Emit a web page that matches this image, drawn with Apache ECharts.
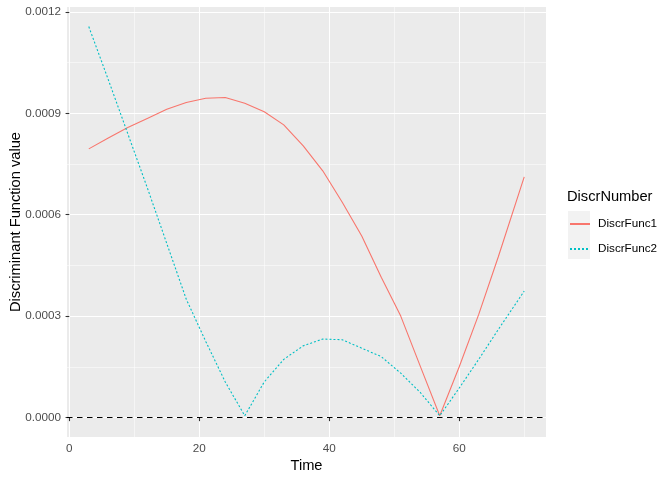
<!DOCTYPE html>
<html><head><meta charset="utf-8">
<script src="https://cdn.jsdelivr.net/npm/echarts@6/dist/echarts.min.js"></script>
<style>html,body{margin:0;padding:0;background:#fff}#c{width:672px;height:480px}</style>
</head><body><div id="c"></div>
<script>
const times = [3,6,9,12,15,18,21,24,27,30,33,36,39,42,45,48,51,54,57,60,63,66,70];
const discrFunc1 = [0.000795,0.000827,0.000858,0.000885,0.000912,0.000932,0.000945,0.000947,0.000930,0.000905,0.000866,0.000804,0.000730,0.000637,0.000537,0.000415,0.000300,0.000152,0.000005,0.000150,0.000305,0.000475,0.000712];
const discrFunc2 = [0.001157,0.001000,0.000840,0.000680,0.000515,0.000350,0.000225,0.000105,0.000005,0.000105,0.000172,0.000212,0.000232,0.000230,0.000205,0.000180,0.000131,0.000074,0.000005,0.000087,0.000172,0.000260,0.000374];
const seriesNames = ['DiscrFunc1','DiscrFunc2'];
const xTicks = [0,20,40,60];
const xMinor = [10,30,50,70];
const yTicks = [0,0.0003,0.0006,0.0009,0.0012];
const yMinor = [0.00015,0.00045,0.00075,0.00105];
const refLine = 0;

const FONT = 'Liberation Sans, Arial, Helvetica, sans-serif';
const chart = echarts.init(document.getElementById('c'), null, {renderer:'canvas'});
const xMin = -0.35, xMax = 73.35;
const yMin = -0.0000579, yMax = 0.0012149;
const tickStyle = {color:'#333333', width:1.07};
const labelStyle = {color:'#4D4D4D', fontSize:11.7, fontFamily:FONT};
chart.setOption({
  animation:false,
  textStyle:{fontFamily:FONT},
  title:{text:'DiscrNumber', left:567, top:189, padding:0, textStyle:{fontSize:14.67, fontWeight:'normal', color:'#000', fontFamily:FONT}},
  legend:{orient:'vertical', left:569, top:218, padding:0, itemWidth:20, itemHeight:14, itemGap:13,
    itemStyle:{opacity:0},
    textStyle:{fontSize:11.7, color:'#000', fontFamily:FONT, padding:[0,0,0,3]},
    data:seriesNames},
  graphic:[{type:'rect', left:568, top:211, shape:{width:22, height:48}, style:{fill:'#F2F2F2'}, z:-1}],
  grid:{left:67, right:126, top:7, bottom:43, show:true, backgroundColor:'#EBEBEB', borderWidth:0,
    containLabel:false, outerBoundsMode:'none'},
  xAxis:[{
    type:'value', min:xMin, max:xMax,
    axisLine:{show:false},
    axisTick:{show:true, length:3.7, lineStyle:tickStyle, customValues:xTicks},
    axisLabel:Object.assign({customValues:xTicks, margin:6}, labelStyle),
    splitLine:{show:true, lineStyle:{color:'#FFFFFF', width:1.07}},
    name:'Time', nameLocation:'middle', nameGap:21, nameMoveOverlap:false,
    nameTextStyle:{fontSize:14.67, color:'#000', fontFamily:FONT}
  },{
    type:'value', min:xMin, max:xMax, position:'bottom',
    axisLine:{show:false},
    axisTick:{show:false, customValues:xMinor},
    axisLabel:{show:false},
    splitLine:{show:true, lineStyle:{color:'#FFFFFF', width:0.53}}
  }],
  yAxis:[{
    type:'value', min:yMin, max:yMax,
    axisLine:{show:false},
    axisTick:{show:true, length:3.7, lineStyle:tickStyle, customValues:yTicks},
    axisLabel:Object.assign({customValues:yTicks, margin:6, formatter:v=>Number(v).toFixed(4)}, labelStyle),
    splitLine:{show:true, lineStyle:{color:'#FFFFFF', width:1.07}},
    name:'Discriminant Function value', nameLocation:'middle', nameGap:44, nameRotate:90, nameMoveOverlap:false,
    nameTextStyle:{fontSize:14.67, color:'#000', fontFamily:FONT}
  },{
    type:'value', min:yMin, max:yMax, position:'left',
    axisLine:{show:false},
    axisTick:{show:false, customValues:yMinor},
    axisLabel:{show:false},
    splitLine:{show:true, lineStyle:{color:'#FFFFFF', width:0.53}}
  }],
  series:[{
    name:seriesNames[0], type:'line', xAxisIndex:0, yAxisIndex:0,
    data:times.map((t,i)=>[t, discrFunc1[i]]),
    showSymbol:false, symbol:'none', smooth:false,
    lineStyle:{color:'#F8766D', width:1.1, type:'solid'}, itemStyle:{color:'#F8766D'},
    markLine:{silent:true, symbol:['none','none'], label:{show:false},
      lineStyle:{color:'#000000', type:[5.5,4.5], width:1.1},
      data:[{yAxis:refLine}]}
  },{
    name:seriesNames[1], type:'line', xAxisIndex:0, yAxisIndex:0,
    data:times.map((t,i)=>[t, discrFunc2[i]]),
    showSymbol:false, symbol:'none', smooth:false,
    lineStyle:{color:'#00BFC4', width:1.1, type:[2,2]}, itemStyle:{color:'#00BFC4'}
  }]
});
</script></body></html>
